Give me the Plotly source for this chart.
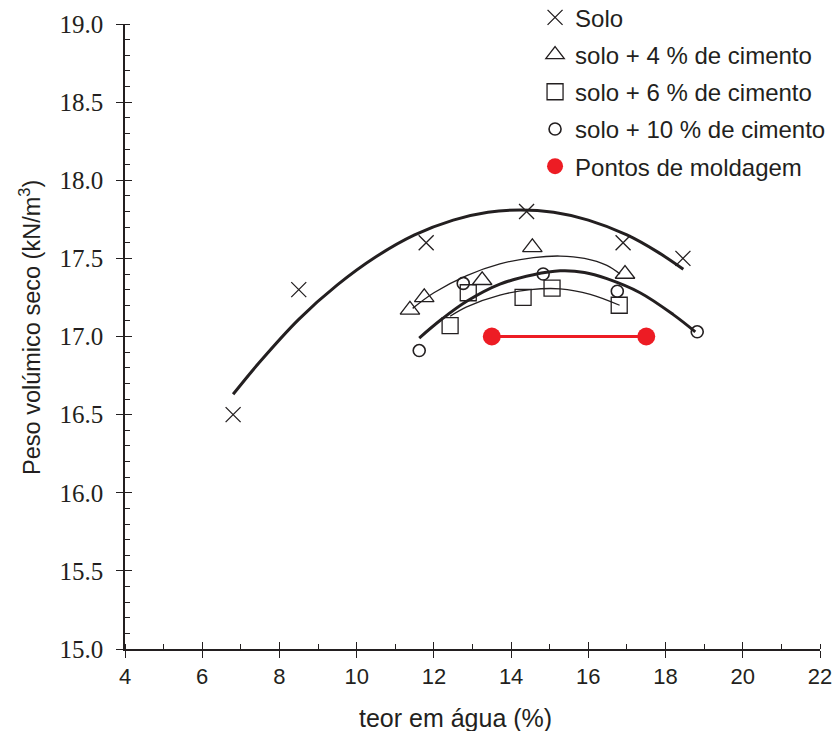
import plotly.graph_objects as go

# ---- data ----
solo_x = [6.8, 8.5, 11.8, 14.4, 16.9, 18.45]
solo_y = [16.5, 17.3, 17.6, 17.8, 17.6, 17.5]

c4_x = [11.38, 11.75, 13.25, 14.55, 16.95]
c4_y = [17.17, 17.25, 17.36, 17.57, 17.40]

c6_x = [12.42, 12.89, 14.31, 15.06, 16.8]
c6_y = [17.07, 17.28, 17.25, 17.31, 17.20]

c10_x = [11.62, 12.76, 14.83, 16.75, 18.82]
c10_y = [16.91, 17.34, 17.40, 17.29, 17.03]

mold_x = [13.5, 17.5]
mold_y = [17.0, 17.0]

# trend curves
solo_fit_x = [6.8, 7.5, 8.5, 9.5, 10.5, 11.5, 12.5, 13.4, 14.25, 15.1, 16.0, 17.0, 17.8, 18.46]
solo_fit_y = [16.63, 16.84, 17.11, 17.33, 17.51, 17.65, 17.745, 17.795, 17.81, 17.795, 17.745, 17.65, 17.54, 17.43]

c4_fit_x = [11.45, 12.0, 12.85, 13.71, 14.58, 15.27, 15.9, 16.48, 16.82]
c4_fit_y = [17.18, 17.28, 17.39, 17.465, 17.505, 17.515, 17.50, 17.455, 17.40]

c6_fit_x = [12.42, 12.85, 13.71, 14.5, 15.27, 16.05, 16.81]
c6_fit_y = [17.13, 17.19, 17.265, 17.30, 17.305, 17.27, 17.20]

c10_fit_x = [11.62, 12.2, 12.85, 13.71, 14.58, 15.27, 15.9, 16.48, 17.34, 18.2, 18.77]
c10_fit_y = [16.99, 17.11, 17.225, 17.335, 17.395, 17.42, 17.41, 17.37, 17.28, 17.14, 17.03]

x_ticks = list(range(4, 23, 2))
y_ticks = [15.0, 15.5, 16.0, 16.5, 17.0, 17.5, 18.0, 18.5, 19.0]

x_title = "teor em água (%)"
y_title = "Peso volúmico seco (kN/m<sup>3</sup>)"

BLACK = "#231F20"
RED = "#ED1C24"

fig = go.Figure()

# curves
fig.add_trace(go.Scatter(x=solo_fit_x, y=solo_fit_y, mode="lines", line=dict(color=BLACK, width=3, shape="spline"),
                         showlegend=False, hoverinfo="skip"))
fig.add_trace(go.Scatter(x=c4_fit_x, y=c4_fit_y, mode="lines", line=dict(color=BLACK, width=1.3, shape="spline"),
                         showlegend=False, hoverinfo="skip"))
fig.add_trace(go.Scatter(x=c6_fit_x, y=c6_fit_y, mode="lines", line=dict(color=BLACK, width=1.3, shape="spline"),
                         showlegend=False, hoverinfo="skip"))
fig.add_trace(go.Scatter(x=c10_fit_x, y=c10_fit_y, mode="lines", line=dict(color=BLACK, width=3, shape="spline"),
                         showlegend=False, hoverinfo="skip"))

# points
fig.add_trace(go.Scatter(x=solo_x, y=solo_y, mode="markers", name="Solo", legendgroup="a",
                         marker=dict(symbol="x-thin-open", size=15, line=dict(color=BLACK, width=1.3), color=BLACK)))
fig.add_trace(go.Scatter(x=c4_x, y=c4_y, mode="markers", name="solo + 4 % de cimento", legendgroup="b",
                         marker=dict(symbol="triangle-up-open", size=17, line=dict(color=BLACK, width=1.3), color=BLACK)))
fig.add_trace(go.Scatter(x=c6_x, y=c6_y, mode="markers", name="solo + 6 % de cimento", legendgroup="c",
                         marker=dict(symbol="square-open", size=16, line=dict(color=BLACK, width=1.3), color=BLACK)))
fig.add_trace(go.Scatter(x=c10_x, y=c10_y, mode="markers", name="solo + 10 % de cimento", legendgroup="d",
                         marker=dict(symbol="circle-open", size=12, line=dict(color=BLACK, width=1.6), color=BLACK)))

fig.add_trace(go.Scatter(x=mold_x, y=mold_y, mode="lines", line=dict(color=RED, width=3),
                         showlegend=False, hoverinfo="skip", xaxis="x2", yaxis="y2"))
fig.add_trace(go.Scatter(x=mold_x, y=mold_y, mode="markers", name="Pontos de moldagem", legendgroup="e",
                         marker=dict(symbol="circle", size=18, color=RED)))

tickfont_y = dict(family="Liberation Serif, Times New Roman, serif", size=25, color=BLACK)
tickfont_x = dict(family="Liberation Sans Narrow, Arial Narrow, Liberation Sans, Arial, sans-serif", size=22, color=BLACK)
sans = "Liberation Sans, Arial, sans-serif"

fig.update_layout(
    width=835, height=731,
    margin=dict(l=125, r=15, t=24, b=82, autoexpand=False),
    plot_bgcolor="white", paper_bgcolor="white",
    font=dict(family=sans, color=BLACK),
    xaxis=dict(range=[4, 22], tickvals=x_ticks, ticks="outside", ticklen=7, tickwidth=1.3, tickcolor=BLACK,
               showline=True, linecolor=BLACK, linewidth=1.6, showgrid=False, zeroline=False,
               tickfont=tickfont_x, automargin=False,
               minor=dict(dtick=1, tick0=4, ticks="inside", ticklen=5, tickwidth=1.1, tickcolor=BLACK, showgrid=False)),
    yaxis=dict(range=[15, 19], tickvals=y_ticks, tickformat=".1f", ticks="outside", ticklen=7, tickwidth=1.3,
               tickcolor=BLACK, showline=True, linecolor=BLACK, linewidth=1.6, showgrid=False, zeroline=False,
               tickfont=tickfont_y, ticklabelstandoff=8, automargin=False,
               minor=dict(dtick=0.1, tick0=15, ticks="inside", ticklen=5, tickwidth=1.1, tickcolor=BLACK, showgrid=False)),
    xaxis2=dict(matches="x", overlaying="x", anchor="y", side="bottom", range=[4, 22], tickvals=x_ticks,
                ticks="inside", ticklen=7, tickwidth=1.3, tickcolor=BLACK, showticklabels=False,
                showline=False, showgrid=False, zeroline=False),
    yaxis2=dict(matches="y", overlaying="y", anchor="x", side="left", range=[15, 19], tickvals=y_ticks,
                ticks="inside", ticklen=7, tickwidth=1.3, tickcolor=BLACK, showticklabels=False,
                showline=False, showgrid=False, zeroline=False),
    legend=dict(x=0.590, y=1.046, xanchor="left", yanchor="top", traceorder="grouped", tracegroupgap=3,
                font=dict(family=sans, size=24, color=BLACK), bgcolor="rgba(0,0,0,0)", borderwidth=0,
                itemwidth=30),
    annotations=[
        dict(text=x_title, xref="paper", yref="paper", x=0.475, y=-0.110, xanchor="center", yanchor="middle",
             showarrow=False, font=dict(family=sans, size=25, color=BLACK)),
        dict(text=y_title, xref="paper", yref="paper", x=-0.137, y=0.515, xanchor="center", yanchor="middle",
             textangle=-90, showarrow=False, font=dict(family=sans, size=23.5, color=BLACK)),
    ],
)

# remove the browser's default 8 px page margin so the figure fills the window exactly
fig.write_html("out.html", config={"displayModeBar": False},
               post_script="document.body.style.margin='0px';document.body.style.overflow='hidden';")
